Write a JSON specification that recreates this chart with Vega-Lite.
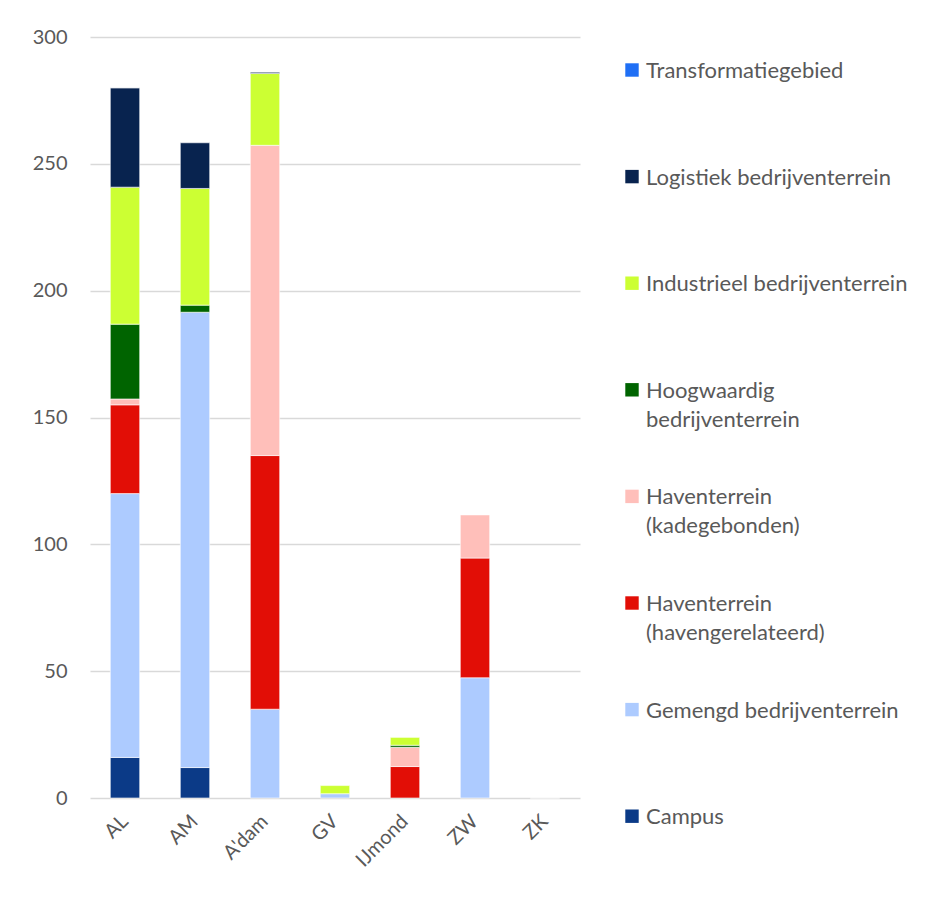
{
  "$schema": "https://vega.github.io/schema/vega-lite/v6.json",
  "width": 490,
  "height": 761,
  "autosize": "none",
  "padding": {"left": 90, "top": 37, "right": 346, "bottom": 100},
  "background": "white",
  "config": {
    "view": {"stroke": null},
    "font": "Lato",
    "axis": {"labelFont": "Lato", "labelColor": "#595959", "labelFontSize": 20},
    "legend": {"labelFont": "Lato", "labelColor": "#595959", "labelFontSize": 22}
  },
  "data": {
    "values": [
      {"regio": "AL", "type": "Campus", "ha": 16},
      {"regio": "AL", "type": "Gemengd bedrijventerrein", "ha": 104},
      {"regio": "AL", "type": "Haventerrein (havengerelateerd)", "ha": 35},
      {"regio": "AL", "type": "Haventerrein (kadegebonden)", "ha": 2.3},
      {"regio": "AL", "type": "Hoogwaardig bedrijventerrein", "ha": 29.5},
      {"regio": "AL", "type": "Industrieel bedrijventerrein", "ha": 54},
      {"regio": "AL", "type": "Logistiek bedrijventerrein", "ha": 39.2},
      {"regio": "AL", "type": "Transformatiegebied", "ha": 0},
      {"regio": "AM", "type": "Campus", "ha": 12},
      {"regio": "AM", "type": "Gemengd bedrijventerrein", "ha": 179.5},
      {"regio": "AM", "type": "Hoogwaardig bedrijventerrein", "ha": 2.8},
      {"regio": "AM", "type": "Industrieel bedrijventerrein", "ha": 46},
      {"regio": "AM", "type": "Logistiek bedrijventerrein", "ha": 18},
      {"regio": "A'dam", "type": "Gemengd bedrijventerrein", "ha": 35},
      {"regio": "A'dam", "type": "Haventerrein (havengerelateerd)", "ha": 100},
      {"regio": "A'dam", "type": "Haventerrein (kadegebonden)", "ha": 122.3},
      {"regio": "A'dam", "type": "Industrieel bedrijventerrein", "ha": 28.3},
      {"regio": "A'dam", "type": "Logistiek bedrijventerrein", "ha": 0.5},
      {"regio": "GV", "type": "Gemengd bedrijventerrein", "ha": 1.7},
      {"regio": "GV", "type": "Industrieel bedrijventerrein", "ha": 3.2},
      {"regio": "IJmond", "type": "Haventerrein (havengerelateerd)", "ha": 12.4},
      {"regio": "IJmond", "type": "Haventerrein (kadegebonden)", "ha": 7.6},
      {"regio": "IJmond", "type": "Hoogwaardig bedrijventerrein", "ha": 0.8},
      {"regio": "IJmond", "type": "Industrieel bedrijventerrein", "ha": 3.1},
      {"regio": "ZW", "type": "Gemengd bedrijventerrein", "ha": 47.4},
      {"regio": "ZW", "type": "Haventerrein (havengerelateerd)", "ha": 47.2},
      {"regio": "ZW", "type": "Haventerrein (kadegebonden)", "ha": 17},
      {"regio": "ZK", "type": "Campus", "ha": 0}
    ]
  },
  "transform": [
    {"calculate": "indexof(['Campus','Gemengd bedrijventerrein','Haventerrein (havengerelateerd)','Haventerrein (kadegebonden)','Hoogwaardig bedrijventerrein','Industrieel bedrijventerrein','Logistiek bedrijventerrein','Transformatiegebied'], datum.type)", "as": "volgorde"}
  ],
  "mark": {"type": "bar", "stroke": "white", "strokeWidth": 0.6},
  "encoding": {
    "x": {
      "field": "regio",
      "type": "nominal",
      "sort": ["AL", "AM", "A'dam", "GV", "IJmond", "ZW", "ZK"],
      "scale": {"paddingInner": 0.58, "paddingOuter": 0.29},
      "axis": {"title": null, "domain": false, "ticks": false, "labelAngle": -45, "labelAlign": "right", "labelBaseline": "middle", "labelPadding": 20}
    },
    "y": {
      "field": "ha",
      "type": "quantitative",
      "stack": "zero",
      "scale": {"domain": [0, 300], "nice": false},
      "axis": {"title": null, "domain": false, "ticks": false, "values": [0, 50, 100, 150, 200, 250, 300], "gridColor": "#D9D9D9", "gridWidth": 1.3, "labelPadding": 23}
    },
    "order": {"field": "volgorde", "type": "quantitative", "sort": "ascending"},
    "color": {
      "field": "type",
      "type": "nominal",
      "scale": {
        "domain": ["Transformatiegebied", "Logistiek bedrijventerrein", "Industrieel bedrijventerrein", "Hoogwaardig bedrijventerrein", "Haventerrein (kadegebonden)", "Haventerrein (havengerelateerd)", "Gemengd bedrijventerrein", "Campus"],
        "range": ["#1F6FF5", "#08234F", "#CCFF33", "#006400", "#FFBFBA", "#E20E06", "#ADCBFF", "#0B3A87"]
      },
      "legend": {
        "title": null,
        "orient": "none",
        "legendX": 531,
        "legendY": 22,
        "symbolType": "square",
        "symbolSize": 180,
        "symbolStrokeWidth": 0,
        "labelOffset": 3,
        "labelLimit": 400,
        "gridAlign": "all",
        "rowPadding": 54.6,
        "labelBaseline": "top",
        "encoding": {"labels": {"dy": {"value": -9}, "lineHeight": {"value": 29}}},
        "labelExpr": "datum.label == 'Hoogwaardig bedrijventerrein' ? ['Hoogwaardig', 'bedrijventerrein'] : datum.label == 'Haventerrein (kadegebonden)' ? ['Haventerrein', '(kadegebonden)'] : datum.label == 'Haventerrein (havengerelateerd)' ? ['Haventerrein', '(havengerelateerd)'] : datum.label"
      }
    }
  }
}
